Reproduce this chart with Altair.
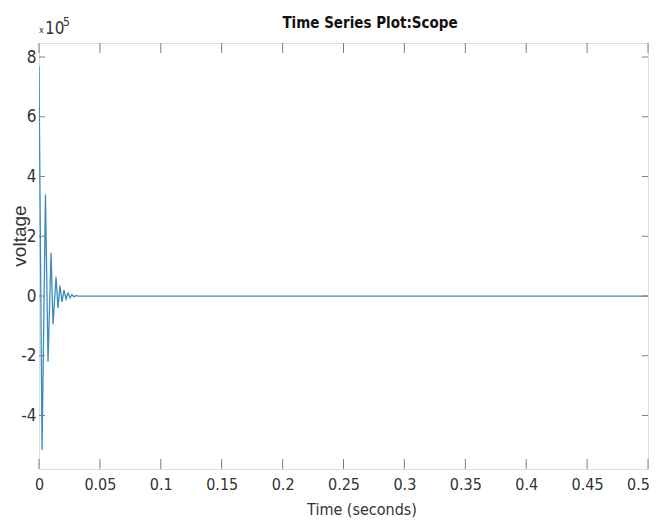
import altair as alt
import pandas as pd

# Scope trace (voltage in units of 1e5)
time_s = [0.0, 0.0025, 0.0053, 0.0074, 0.0099, 0.0115, 0.0140, 0.0156, 0.0172,
          0.0189, 0.0205, 0.0222, 0.0238, 0.0255, 0.0271, 0.0287, 0.0304, 0.0320, 0.5]
voltage_e5 = [7.7, -5.15, 3.4, -2.2, 1.45, -0.95, 0.64, -0.4, 0.35,
              -0.2, 0.2, -0.1, 0.1, -0.06, 0.05, -0.03, 0.02, 0.0, 0.0]

x_ticks = [0, 0.05, 0.1, 0.15, 0.2, 0.25, 0.3, 0.35, 0.4, 0.45, 0.5]
y_ticks = [-4, -2, 0, 2, 4, 6, 8]

W, H = 609, 426
FONT = "'Liberation Sans Narrow', 'DejaVu Sans Condensed', 'Roboto Condensed', 'Liberation Sans', sans-serif"
LINE = "#3b8cbd"
FRAME = "#808080"
TXT = "#333333"

df = pd.DataFrame({"t": time_s, "v": voltage_e5})
xt = pd.DataFrame({"xt": x_ticks})
yt = pd.DataFrame({"yt": y_ticks})

xscale = alt.Scale(domain=[0, 0.5], nice=False, zero=False)
yscale = alt.Scale(domain=[-5.79, 8.47], nice=False, zero=False)

line = alt.Chart(df).mark_line(color=LINE, strokeWidth=1.3, clip=True).encode(
    x=alt.X("t:Q", scale=xscale,
            axis=alt.Axis(values=x_ticks, labelExpr="'' + datum.value", title=None,
                          ticks=False, domain=False, grid=False, labelPadding=7,
                          labelFont=FONT, labelFontSize=16, labelColor=TXT,
                          labelOffset={"condition": {"test": "datum.value >= 0.5", "value": -10}, "value": 0},
                          labelFlush=False, labelOverlap=False)),
    y=alt.Y("v:Q", scale=yscale,
            axis=alt.Axis(values=y_ticks, labelExpr="'' + datum.value", title=None,
                          ticks=False, domain=False, grid=False, labelPadding=3,
                          labelFont=FONT, labelFontSize=17, labelColor=TXT,
                          labelFlush=False, labelOverlap=False)),
)

tick_bottom = alt.Chart(xt).mark_rule(color=FRAME, strokeWidth=1).encode(
    x=alt.X("xt:Q", scale=xscale), y=alt.value(H), y2=alt.value(H - 10))
tick_top = alt.Chart(xt).mark_rule(color=FRAME, strokeWidth=1).encode(
    x=alt.X("xt:Q", scale=xscale), y=alt.value(0), y2=alt.value(10))
tick_left = alt.Chart(yt).mark_rule(color=FRAME, strokeWidth=1).encode(
    y=alt.Y("yt:Q", scale=yscale), x=alt.value(0), x2=alt.value(6))
tick_right = alt.Chart(yt).mark_rule(color=FRAME, strokeWidth=1).encode(
    y=alt.Y("yt:Q", scale=yscale), x=alt.value(W), x2=alt.value(W - 6))

title = alt.Chart(pd.DataFrame({"s": ["Time Series Plot:Scope"]})).mark_text(
    font=FONT, fontSize=15, fontWeight="bold", color="#111111", baseline="alphabetic"
).encode(text="s:N", x=alt.value(331), y=alt.value(-15))

xtitle = alt.Chart(pd.DataFrame({"s": ["Time (seconds)"]})).mark_text(
    font=FONT, fontSize=16, color=TXT, baseline="middle"
).encode(text="s:N", x=alt.value(323), y=alt.value(467))

ytitle = alt.Chart(pd.DataFrame({"s": ["voltage"]})).mark_text(
    font="'Liberation Sans', sans-serif", fontSize=19, color=TXT, baseline="middle", angle=270
).encode(text="s:N", x=alt.value(-19), y=alt.value(193))

exp_x = alt.Chart(pd.DataFrame({"s": ["x"]})).mark_text(
    font=FONT, fontSize=9, color=TXT, baseline="alphabetic", align="left"
).encode(text="s:N", x=alt.value(0), y=alt.value(-10))
exp_10 = alt.Chart(pd.DataFrame({"s": ["10"]})).mark_text(
    font=FONT, fontSize=17, color=TXT, baseline="alphabetic", align="left"
).encode(text="s:N", x=alt.value(6), y=alt.value(-9))
exp_5 = alt.Chart(pd.DataFrame({"s": ["5"]})).mark_text(
    font=FONT, fontSize=12, color=TXT, baseline="alphabetic", align="left"
).encode(text="s:N", x=alt.value(24), y=alt.value(-17))

chart = alt.layer(
    line, tick_bottom, tick_top, tick_left, tick_right,
    title, xtitle, ytitle, exp_x, exp_10, exp_5
).properties(
    width=W, height=H,
    autosize=alt.AutoSizeParams(type="none"),
    padding={"left": 31, "top": 35, "right": 4, "bottom": 52},
).configure_view(
    stroke=FRAME, strokeWidth=1.5
).configure(background="white")

chart.save("out.html", embed_options={"renderer": "svg", "actions": False})
